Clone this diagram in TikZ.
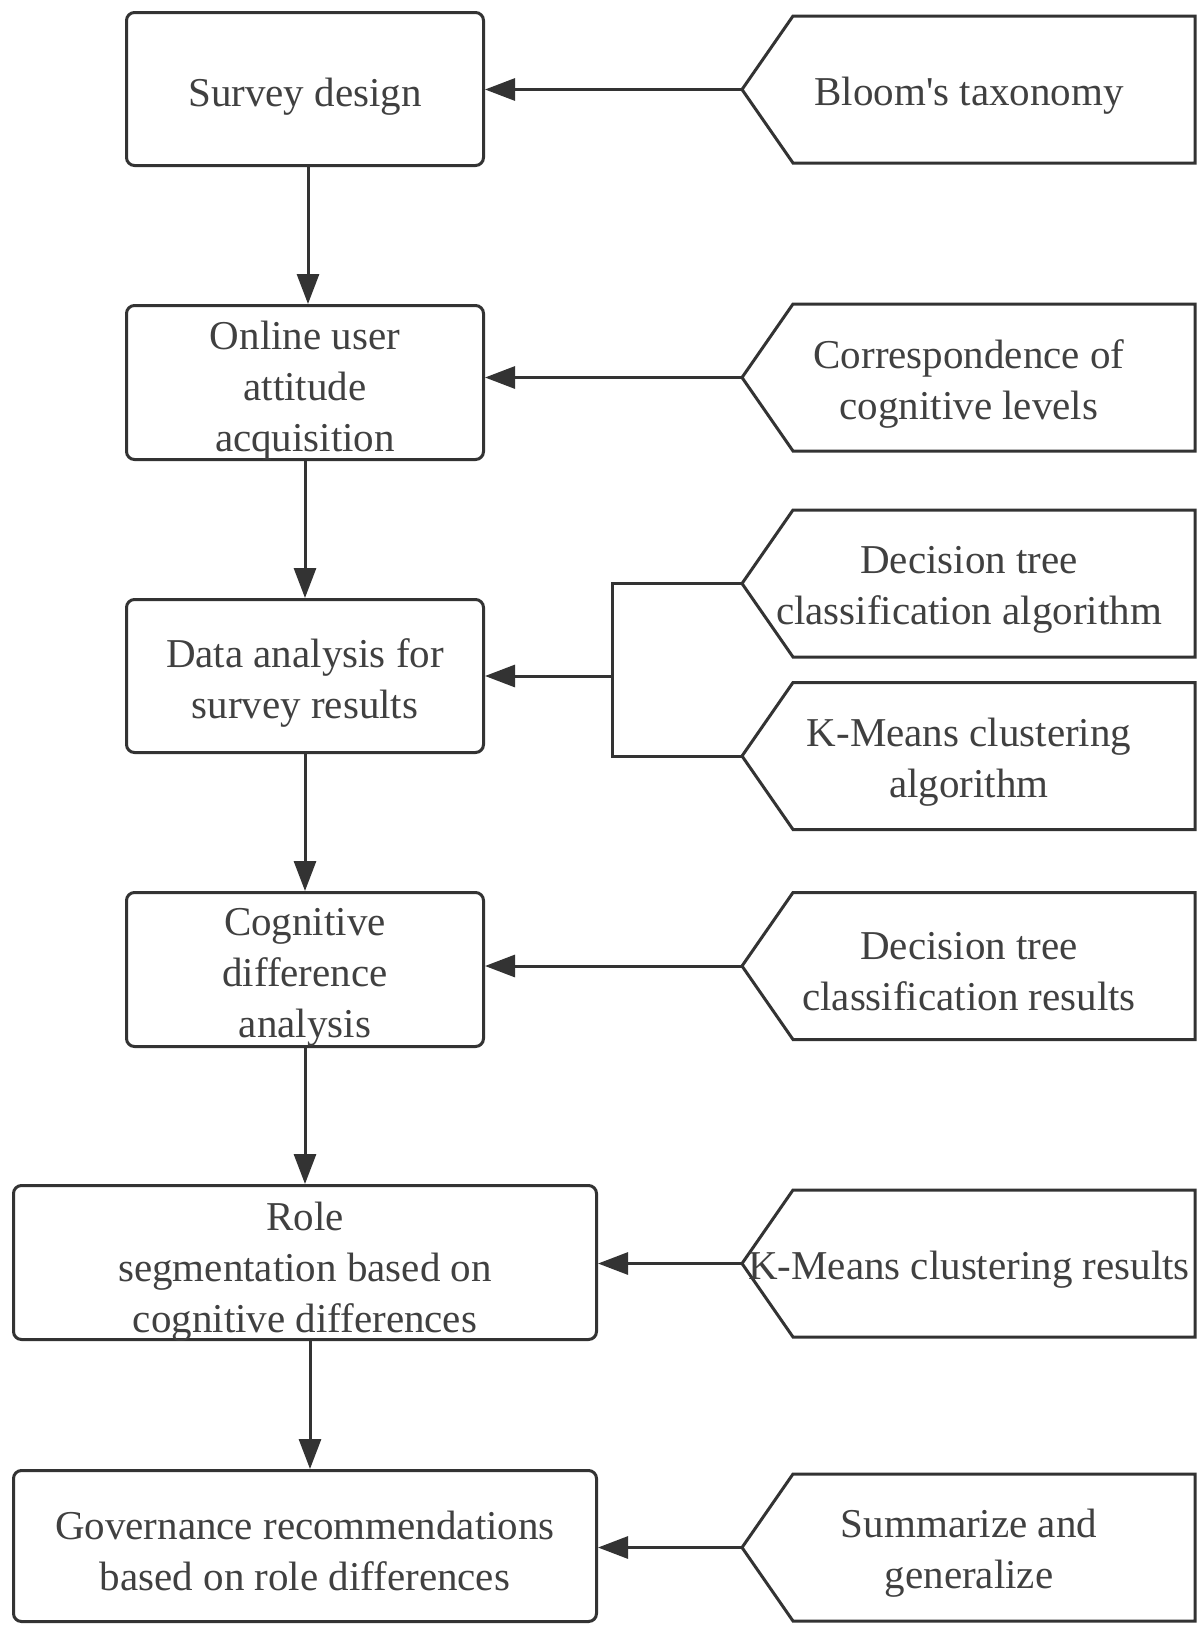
\documentclass[tikz,border=0pt]{standalone}
\usepackage{fontspec}
\setmainfont{Liberation Serif}
\usetikzlibrary{arrows.meta}
\definecolor{ln}{HTML}{333333}
\definecolor{tx}{HTML}{404040}
\newcommand\pentagonbox[3]{%
  \draw[pentline] (742,#2) -- (793,{#2-73.5}) -- (1195,{#2-73.5}) -- (1195,{#2+73.5}) -- (793,{#2+73.5}) -- cycle;
  \node[lbl] (#1) at (969,{#2+6}) {#3};
  \coordinate (#1-tip) at (742,#2);
}
\begin{document}
\begin{tikzpicture}[x=1pt,y=-1pt,
  lbl/.style={text=tx, font=\fontsize{41}{51}\selectfont, align=center, inner sep=0pt},
  box/.style={draw=ln, line width=3pt, rounded corners=8pt, inner sep=0pt},
  arr/.style={draw=ln, line width=3pt, -{Triangle[length=30pt,width=22pt]}},
  pentline/.style={draw=ln, line width=3pt, line join=miter},
  plain/.style={draw=ln, line width=3pt},
]
\useasboundingbox[fill=white] (0,0) rectangle (1200,1625);

% main boxes
\node[box, minimum width=357pt, minimum height=153pt] (b1) at (305,89) {};
\node[lbl] (t1) at (305,97) {Survey design};
\node[box, minimum width=357pt, minimum height=154pt] (b2) at (305,382.5) {};
\node[lbl] (t2) at (305,391) {Online user\\attitude\\acquisition};
\node[box, minimum width=357pt, minimum height=153pt] (b3) at (305,676) {};
\node[lbl] (t3) at (305,683) {Data analysis for\\survey results};
\node[box, minimum width=357pt, minimum height=154pt] (b4) at (305,969.5) {};
\node[lbl] (t4) at (305,977) {Cognitive\\difference\\analysis};
\node[box, minimum width=583pt, minimum height=154pt] (b5) at (305,1262.5) {};
\node[lbl] (t5) at (305,1272) {Role\\segmentation based on\\cognitive differences};
\node[box, minimum width=583pt, minimum height=151pt] (b6) at (305,1546) {};
\node[lbl] (t6) at (305,1551) {Governance recommendations\\based on role differences};

% side pentagons
\pentagonbox{p1}{89.5}{Bloom\textquotesingle s taxonomy}
\pentagonbox{p2}{377.5}{Correspondence of\\cognitive levels}
\pentagonbox{p3}{583.5}{Decision tree\\classification algorithm}
\pentagonbox{p4}{756}{K-Means clustering\\algorithm}
\pentagonbox{p5}{966}{Decision tree\\classification results}
\pentagonbox{p6}{1263.5}{K-Means clustering results}
\pentagonbox{p7}{1547.5}{Summarize and\\generalize}

% vertical flow
\draw[arr] ([xshift=3pt]b1.south) -- ([xshift=3pt]b2.north);
\draw[arr] (b2.south) -- (b3.north);
\draw[arr] (b3.south) -- (b4.north);
\draw[arr] (b4.south) -- (b5.north);
\draw[arr] ([xshift=5pt]b5.south) -- ([xshift=5pt]b6.north);

% side arrows
\draw[arr] (p1-tip) -- (p1-tip -| b1.east);
\draw[arr] (p2-tip) -- (p2-tip -| b2.east);
\coordinate (ja) at (612,583.5);
\coordinate (jb) at (612,756);
\coordinate (jm) at (612,676);
\draw[plain] (p3-tip) -- (ja) -- (jb) -- (p4-tip);
\draw[arr] (jm) -- (jm -| b3.east);
\draw[arr] (p5-tip) -- (p5-tip -| b4.east);
\draw[arr] (p6-tip) -- (p6-tip -| b5.east);
\draw[arr] (p7-tip) -- (p7-tip -| b6.east);
\end{tikzpicture}
\end{document}
